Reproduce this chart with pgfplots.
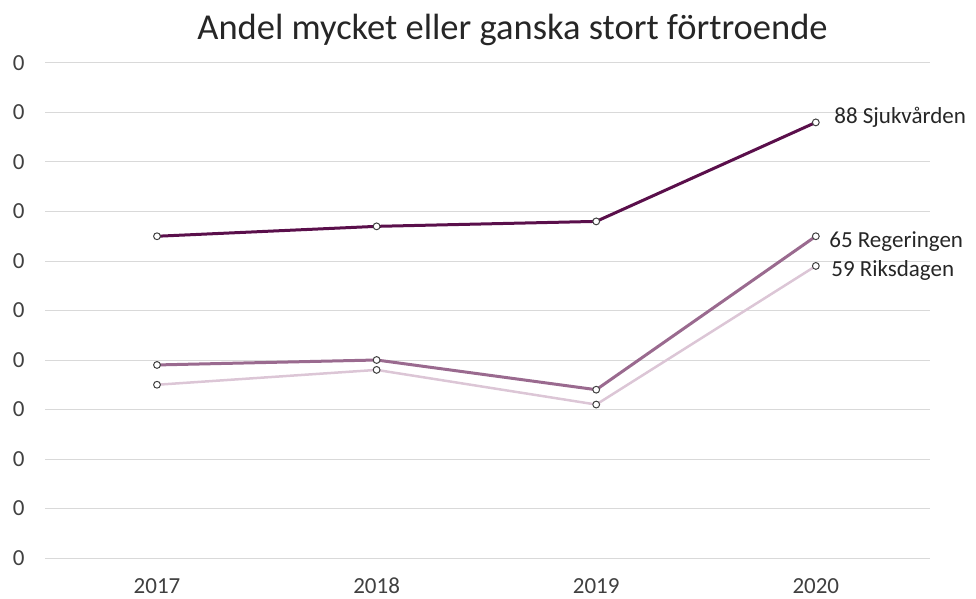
\documentclass[border=0pt]{standalone}
\usepackage{fontspec}
\setmainfont{Carlito}
\usepackage{pgfplots}
\pgfplotsset{compat=1.18}
\definecolor{sjuk}{HTML}{5A0F4B}
\definecolor{reg}{HTML}{9A6A8F}
\definecolor{riks}{HTML}{DCC6D6}
\definecolor{gridc}{HTML}{D9D9D9}
\definecolor{txt}{HTML}{404040}
\begin{document}
\begin{tikzpicture}[x=1pt,y=1pt]
\path[use as bounding box] (0,0) rectangle (976,598);
\node[font=\fontsize{36.5}{42}\selectfont, text=black!85, anchor=base, inner sep=0pt] at (512.5,558) {Andel mycket eller ganska stort förtroende};
\begin{axis}[
  at={(45pt,40pt)}, anchor=south west,
  scale only axis, width=885pt, height=495pt,
  xmin=2016.49, xmax=2020.52, ymin=0, ymax=100,
  xtick={2017,2018,2019,2020},
  xticklabels={2017,2018,2019,2020},
  ytick={0,10,...,100},
  yticklabel={0},
  ymajorgrids, grid style={gridc, line width=1pt},
  axis line style={draw=none},
  major tick length=0pt,
  tick label style={font=\fontsize{23}{27}\selectfont, text=txt},
  yticklabel style={xshift=-17pt},
  xticklabel style={anchor=base, yshift=-35pt},
  clip=false,
  every axis plot/.append style={mark=*, mark size=3.4pt, mark options={fill=white, draw=txt, line width=1pt}},
]
\addplot[riks, line width=2.5pt] coordinates {(2017,35) (2018,38) (2019,31) (2020,59)};
\addplot[reg, line width=3pt] coordinates {(2017,39) (2018,40) (2019,34) (2020,65)};
\addplot[sjuk, line width=3pt] coordinates {(2017,65) (2018,67) (2019,68) (2020,88)};
\node[anchor=base west, font=\fontsize{23}{27}\selectfont, text=black!85] at (axis cs:2020,88) [xshift=15pt, yshift=-1.5pt] {88 Sjukvården};
\node[anchor=base west, font=\fontsize{23}{27}\selectfont, text=black!85] at (axis cs:2020,65) [xshift=10pt, yshift=-11pt] {65 Regeringen};
\node[anchor=base west, font=\fontsize{23}{27}\selectfont, text=black!85] at (axis cs:2020,59) [xshift=12pt, yshift=-10.5pt] {59 Riksdagen};
\end{axis}
\end{tikzpicture}
\end{document}
